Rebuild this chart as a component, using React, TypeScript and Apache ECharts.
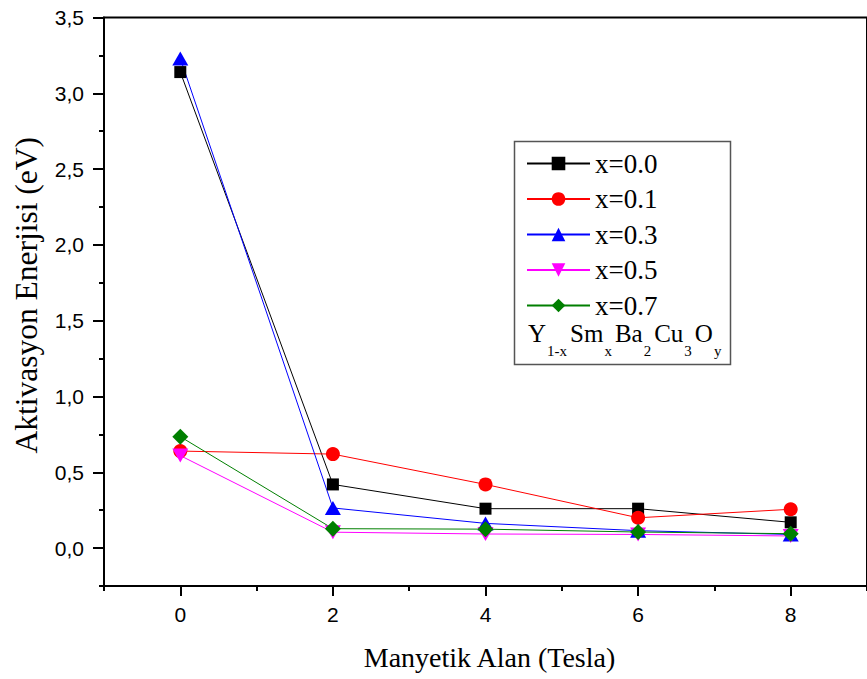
import React, { useEffect, useRef } from "react";
import * as echarts from "echarts";

const fieldValues = [0, 2, 4, 6, 8];
const seriesNames = ["x=0.0", "x=0.1", "x=0.3", "x=0.5", "x=0.7"];
const s00 = [3.14, 0.42, 0.26, 0.26, 0.17];
const s01 = [0.64, 0.62, 0.42, 0.2, 0.256];
const s03 = [3.23, 0.265, 0.163, 0.115, 0.09];
const s05 = [0.61, 0.105, 0.093, 0.09, 0.08];
const s07 = [0.735, 0.128, 0.125, 0.106, 0.095];
const xMajorTicks = [0, 2, 4, 6, 8];
const xMinorTicks = [-1, 1, 3, 5, 7, 9];
const yMajorTicks = [0, 0.5, 1, 1.5, 2, 2.5, 3, 3.5];
const yMinorTicks = [-0.25, 0.25, 0.75, 1.25, 1.75, 2.25, 2.75, 3.25];
const formulaParts: [string, string][] = [
  ["Y", "1-x"],
  ["Sm", "x"],
  ["Ba", "2"],
  ["Cu", "3"],
  ["O", "y"],
];

const colors = ["#000000", "#ff0000", "#0000ff", "#ff00ff", "#007f00"];
const symbols = ["rect", "circle", "triangle", "triangle", "diamond"];
const symbolSizes: any[] = [12, 14, [16, 14], [16, 14], 16];
const symbolRotates = [0, 0, 0, 180, 0];
const allSeries = [s00, s01, s03, s05, s07];

function buildFormula(serif: string) {
  const canvas = document.createElement("canvas");
  const ctx = canvas.getContext("2d")!;
  const mainSize = 25;
  const subSize = 15;
  const mainBase = 342;
  const subBase = 356;
  let x = 528;
  const children: any[] = [];
  formulaParts.forEach(([m, s]) => {
    ctx.font = `${mainSize}px "${serif}"`;
    const mw = ctx.measureText(m).width;
    children.push({
      type: "text",
      x,
      y: mainBase - 0.3375 * mainSize,
      style: {
        text: m,
        fontFamily: serif,
        fontSize: mainSize,
        fill: "#000",
        verticalAlign: "middle",
        align: "left",
      },
    });
    x += mw + 1;
    ctx.font = `${subSize}px "${serif}"`;
    const sw = ctx.measureText(s).width;
    children.push({
      type: "text",
      x,
      y: subBase - 0.3375 * subSize,
      style: {
        text: s,
        fontFamily: serif,
        fontSize: subSize,
        fill: "#000",
        verticalAlign: "middle",
        align: "left",
      },
    });
    x += sw + 3;
  });
  return { type: "group", z: 10, children };
}

export default function App() {
  const ref = useRef<HTMLDivElement>(null);
  useEffect(() => {
    if (!ref.current) return;
    const chart = echarts.init(ref.current, null, { renderer: "svg" });
    const sans = "Liberation Sans";
    const serif = "Liberation Serif";
    const xMin = -1, xMax = 9, yMin = -0.25, yMax = 3.5;
    const baseX = {
      type: "value",
      min: xMin,
      max: xMax,
      position: "bottom",
      splitLine: { show: false },
    };
    const baseY = {
      type: "value",
      min: yMin,
      max: yMax,
      position: "left",
      splitLine: { show: false },
    };
    chart.setOption({
      animation: false,
      backgroundColor: "#ffffff",
      grid: {
        left: 104,
        top: 17.5,
        right: -5,
        bottom: 93,
        show: true,
        borderColor: "#000",
        borderWidth: 2,
      },
      xAxis: [
        {
          ...baseX,
          name: "Manyetik Alan (Tesla)",
          nameLocation: "middle",
          nameGap: 57,
          nameTextStyle: {
            fontFamily: serif,
            fontSize: 28,
            color: "#000",
            padding: [0, 0, 0, 8],
          },
          axisLine: { show: true, onZero: false, lineStyle: { color: "#000", width: 2 } },
          axisTick: {
            show: true,
            inside: false,
            length: 10,
            customValues: xMajorTicks,
            lineStyle: { color: "#000", width: 2 },
          },
          axisLabel: {
            customValues: xMajorTicks,
            margin: 18,
            fontFamily: sans,
            fontSize: 21,
            color: "#000",
          },
        },
        {
          ...baseX,
          axisLine: { show: false, onZero: false },
          axisTick: {
            show: true,
            inside: false,
            length: 5,
            customValues: xMinorTicks,
            lineStyle: { color: "#000", width: 2 },
          },
          axisLabel: { show: false },
        },
      ],
      yAxis: [
        {
          ...baseY,
          name: "Aktivasyon Enerjisi (eV)",
          nameLocation: "middle",
          nameGap: 62,
          nameTextStyle: {
            fontFamily: serif,
            fontSize: 31.5,
            color: "#000",
            padding: [0, 0, 0, 13],
          },
          axisLine: { show: true, onZero: false, lineStyle: { color: "#000", width: 2 } },
          axisTick: {
            show: true,
            inside: false,
            length: 11,
            customValues: yMajorTicks,
            lineStyle: { color: "#000", width: 2 },
          },
          axisLabel: {
            customValues: yMajorTicks,
            margin: 20,
            fontFamily: sans,
            fontSize: 21,
            color: "#000",
            formatter: (v: number) => v.toFixed(1).replace(".", ","),
          },
        },
        {
          ...baseY,
          axisLine: { show: false, onZero: false },
          axisTick: {
            show: true,
            inside: false,
            length: 5,
            customValues: yMinorTicks,
            lineStyle: { color: "#000", width: 2 },
          },
          axisLabel: { show: false },
        },
      ],
      legend: {
        orient: "vertical",
        left: 526,
        top: 150,
        padding: 0,
        itemWidth: 63,
        itemHeight: 17,
        itemGap: 8.5,
        selectedMode: false,
        textStyle: { fontFamily: serif, fontSize: 27, color: "#000" },
        data: seriesNames,
      },
      graphic: [
        {
          type: "rect",
          left: 512,
          top: 139,
          shape: { width: 216, height: 223 },
          style: { fill: "none", stroke: "#555", lineWidth: 1.5 },
          z: 10,
        },
        buildFormula(serif),
      ],
      series: allSeries.map((vals, i) => ({
        name: seriesNames[i],
        type: "line",
        xAxisIndex: 0,
        yAxisIndex: 0,
        data: fieldValues.map((x, j) => [x, vals[j]]),
        symbol: symbols[i],
        symbolSize: symbolSizes[i],
        symbolRotate: symbolRotates[i],
        showAllSymbol: true,
        color: colors[i],
        itemStyle: { color: colors[i] },
        lineStyle: { color: colors[i], width: 1 },
      })),
    });
    return () => chart.dispose();
  }, []);
  return (
    <div
      ref={ref}
      style={{ position: "fixed", left: 0, top: 0, width: 867, height: 679 }}
    />
  );
}
